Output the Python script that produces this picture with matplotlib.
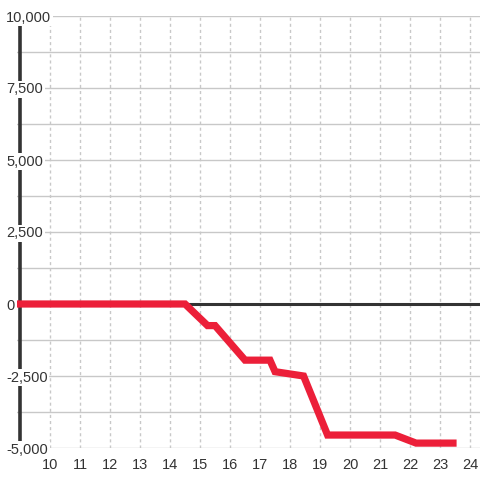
import matplotlib
matplotlib.use("Agg")
import matplotlib.pyplot as plt
from matplotlib.ticker import MultipleLocator
from matplotlib.transforms import blended_transform_factory

# series
x_vals = [8.9, 14.5, 15.25, 15.5, 16.5, 17.33, 17.5, 18.45, 19.25, 21.5, 22.2, 23.55]
y_vals = [0, 0, -750, -750, -1950, -1950, -2350, -2500, -4550, -4550, -4830, -4830]

x_ticks = list(range(10, 25))
y_ticks = [-5000, -2500, 0, 2500, 5000, 7500, 10000]
y_labels = ["-5,000", "-2,500", "0", "2,500", "5,000", "7,500", "10,000"]

TEXT = "#333333"
GRID = "#c8c8c8"
RED = "#ec1f39"

plt.rcParams["font.family"] = ["Liberation Sans", "DejaVu Sans"]

fig = plt.figure(figsize=(4.8, 4.8), dpi=100)
ax = fig.add_axes([17 / 480, 32 / 480, 463 / 480, 432 / 480])

# left spine doubles as the heavy axis line (set before ticks: it resets them)
for side in ["top", "right", "bottom"]:
    ax.spines[side].set_visible(False)
ax.spines["left"].set_position(("data", 9.0))
ax.spines["left"].set_color(TEXT)
ax.spines["left"].set_linewidth(2.6)
ax.spines["left"].set_zorder(2)

ax.set_xlim(8.9, 24.33)
ax.set_ylim(-5000, 10000)

ax.set_xticks(x_ticks)
ax.set_xticklabels([str(t) for t in x_ticks])
ax.set_yticks(y_ticks)
ax.yaxis.set_minor_locator(MultipleLocator(1250))

ax.set_axisbelow(True)
ax.grid(axis="y", which="both", color=GRID, lw=1.0, ls="-")
ax.grid(axis="x", which="major", color=GRID, lw=1.0, ls=(0, (2.2, 2.2)))

ax.tick_params(axis="both", which="both", length=0, labelsize=10.5, labelcolor=TEXT)
ax.tick_params(axis="x", pad=7)
ax.tick_params(axis="y", labelleft=False)

# y labels sit on top of the axis line with a white box, left aligned
trans = blended_transform_factory(fig.transFigure, ax.transData)
for val, txt in zip(y_ticks, y_labels):
    ax.text(6 / 480, val, txt, transform=trans, ha="left", va="center_baseline",
            fontsize=10.5, color=TEXT, zorder=5, clip_on=False,
            bbox=dict(facecolor="white", edgecolor="none", boxstyle="square,pad=0.12"))

ax.axhline(0, color=TEXT, lw=2.2, zorder=2)
ax.plot(x_vals, y_vals, color=RED, lw=5.2, solid_joinstyle="miter",
        solid_capstyle="butt", zorder=3, clip_on=False)

fig.savefig("out.png", dpi=100, facecolor="white")
